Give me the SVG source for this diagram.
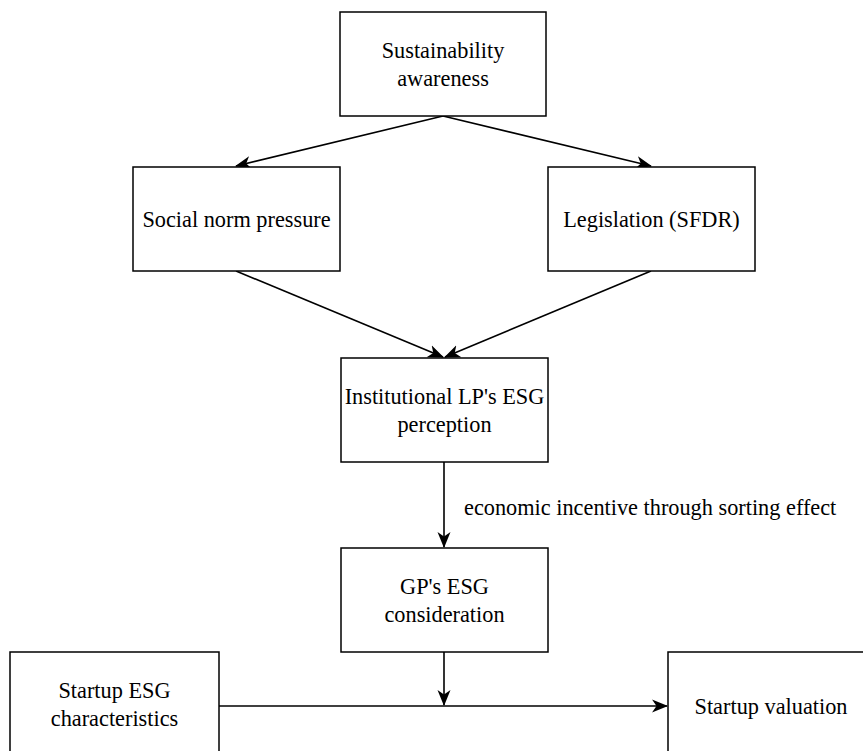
<svg xmlns="http://www.w3.org/2000/svg" width="863" height="751" viewBox="0 0 863 751">
<style>
.box{fill:#fff;stroke:#000;stroke-width:1.5}
.t{font-family:"Liberation Serif","Times New Roman",serif;font-size:22.3px;fill:#000;text-anchor:middle;dominant-baseline:central}
.lbl{font-family:"Liberation Serif","Times New Roman",serif;font-size:22.3px;fill:#000;dominant-baseline:central}
.e{fill:none;stroke:#000;stroke-width:1.6}
</style>
<defs>
<marker id="a" viewBox="0 0 16 14" refX="15" refY="7" markerWidth="16" markerHeight="14" markerUnits="userSpaceOnUse" orient="auto">
<path d="M0,0.5 L16,7 L0,13.5 L4.5,7 Z" fill="#000"/>
</marker>
</defs>
<g id="connectors">
<line class="e" x1="443" y1="116" x2="236" y2="166" marker-end="url(#a)"/>
<line class="e" x1="443" y1="116" x2="651" y2="166" marker-end="url(#a)"/>
<line class="e" x1="236" y1="271" x2="443" y2="357" marker-end="url(#a)"/>
<line class="e" x1="651" y1="271" x2="445" y2="357" marker-end="url(#a)"/>
<line class="e" x1="444" y1="462" x2="444" y2="547" marker-end="url(#a)"/>
<text class="lbl" x="464" y="507">economic incentive through sorting effect</text>
<line class="e" x1="219" y1="706" x2="667" y2="706" marker-end="url(#a)"/>
<line class="e" x1="444" y1="652" x2="444" y2="705" marker-end="url(#a)"/>
</g>
<g id="sustainability">
<rect class="box" x="340" y="12" width="206" height="104"/>
<text class="t" x="443" y="50">Sustainability</text>
<text class="t" x="443" y="78">awareness</text>
</g>
<g id="social">
<rect class="box" x="133" y="167" width="207" height="104"/>
<text class="t" x="236.5" y="219">Social norm pressure</text>
</g>
<g id="legislation">
<rect class="box" x="548" y="167" width="207" height="104"/>
<text class="t" x="651.5" y="219">Legislation (SFDR)</text>
</g>
<g id="institutional">
<rect class="box" x="341" y="358" width="207" height="104"/>
<text class="t" x="444.5" y="396">Institutional LP's ESG</text>
<text class="t" x="444.5" y="424">perception</text>
</g>
<g id="gp">
<rect class="box" x="341" y="548" width="207" height="104"/>
<text class="t" x="444.5" y="586">GP's ESG</text>
<text class="t" x="444.5" y="614">consideration</text>
</g>
<g id="startup-esg">
<rect class="box" x="10" y="652" width="209" height="110"/>
<text class="t" x="114.5" y="690">Startup ESG</text>
<text class="t" x="114.5" y="718">characteristics</text>
</g>
<g id="valuation">
<rect class="box" x="668" y="652" width="209" height="110"/>
<text class="t" x="771" y="706">Startup valuation</text>
</g>
</svg>
